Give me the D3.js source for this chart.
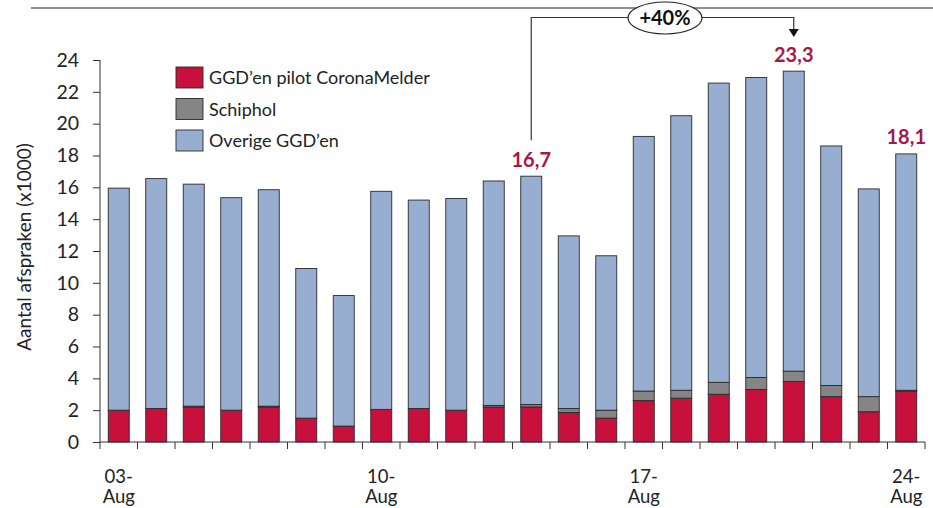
<!DOCTYPE html>
<html><head><meta charset="utf-8">
<script src="https://cdn.jsdelivr.net/npm/d3@7"></script>
<style>html,body{margin:0;padding:0;background:#fff;} text{font-family:Lato,"Open Sans",sans-serif;}</style>
</head><body>
<svg id="c" width="933" height="508"></svg>
<script>
const dates = ["03-Aug","04-Aug","05-Aug","06-Aug","07-Aug","08-Aug","09-Aug","10-Aug","11-Aug","12-Aug","13-Aug","14-Aug","15-Aug","16-Aug","17-Aug","18-Aug","19-Aug","20-Aug","21-Aug","22-Aug","23-Aug","24-Aug"];
const shownLabels = ["03-Aug","10-Aug","17-Aug","24-Aug"];
const ggdPilot = [2.0,2.1,2.2,2.0,2.2,1.5,1.0,2.05,2.1,2.0,2.2,2.2,1.85,1.5,2.6,2.75,3.0,3.3,3.8,2.85,1.9,3.2];
const schiphol = [0,0,0.05,0,0.05,0,0,0,0,0,0.1,0.15,0.25,0.5,0.6,0.5,0.75,0.75,0.65,0.7,0.95,0.05];
const overige = [13.95,14.45,13.95,13.35,13.6,9.4,8.2,13.7,13.1,13.3,14.1,14.35,10.85,9.7,16.0,17.25,18.8,18.85,18.85,15.05,13.05,14.85];
const seriesNames = ["GGD\u2019en pilot CoronaMelder","Schiphol","Overige GGD\u2019en"];
const seriesColors = ["#c8103c","#858585","#98aed0"];
const yTicks = [0,2,4,6,8,10,12,14,16,18,20,22,24];
const callouts = [{date:"14-Aug",text:"16,7"},{date:"21-Aug",text:"23,3"},{date:"24-Aug",text:"18,1"}];
const changeLabel = "+40%";
const yTitle = "Aantal afspraken (x1000)";

const svg = d3.select("#c");
const L = 100, R = 925, T = 60, B = 442;
const x = d3.scaleBand().domain(dates).range([L, R]).paddingInner(0.44).paddingOuter(0.22);
const y = d3.scaleLinear().domain([0, 24]).range([B, T]);

// top rule
svg.append("line").attr("x1",31).attr("x2",933).attr("y1",8).attr("y2",8).attr("stroke","#222").attr("stroke-width",1.2);

// stacked bars
const rows = dates.map((d,i)=>({date:d, s0:ggdPilot[i], s1:schiphol[i], s2:overige[i]}));
const stack = d3.stack().keys(["s0","s1","s2"])(rows);
stack.forEach((layer, k) => {
  svg.append("g").selectAll("rect").data(layer).join("rect")
    .attr("x", d => x(d.data.date))
    .attr("width", x.bandwidth())
    .attr("y", d => y(d[1]))
    .attr("height", d => Math.max(0, y(d[0]) - y(d[1])))
    .attr("fill", seriesColors[k])
    .attr("stroke", "#2a2a2a").attr("stroke-width", 0.9);
});

// y axis
const yAxis = d3.axisLeft(y).tickValues(yTicks).tickSize(7).tickPadding(14);
const gy = svg.append("g").attr("transform",`translate(${L},0)`).call(yAxis);
gy.select(".domain").attr("stroke","#333").attr("d",`M-0,${T}H0V${B}`);
gy.selectAll(".tick line").attr("stroke","#333");
gy.selectAll("text").attr("font-size",19.5).attr("fill","#222").style("font-family","Lato, sans-serif");

// x axis
svg.append("line").attr("x1",L).attr("x2",R).attr("y1",B).attr("y2",B).attr("stroke","#333");
const step = x.step();
d3.range(dates.length+1).forEach(i=>{
  const xx = L + i*step;
  svg.append("line").attr("x1",xx).attr("x2",xx).attr("y1",B).attr("y2",B+7).attr("stroke","#333");
});
const xl = svg.append("g").selectAll("text").data(shownLabels).join("text")
  .attr("x", d => x(d) + x.bandwidth()/2)
  .attr("text-anchor","middle").attr("font-size",18.5).attr("fill","#222");
xl.append("tspan").attr("x", d => x(d) + x.bandwidth()/2).attr("y",483).text(d => d.split("-")[0]+"-");
xl.append("tspan").attr("x", d => x(d) + x.bandwidth()/2).attr("y",503).text(d => d.split("-")[1]);

// y title
svg.append("text").attr("transform","translate(31,247) rotate(-90)").attr("text-anchor","middle")
  .attr("font-size",19).attr("fill","#222").text(yTitle);

// legend
const lg = svg.append("g");
seriesNames.forEach((n,k)=>{
  const yy = 67 + k*31.5;
  lg.append("rect").attr("x",176).attr("y",yy).attr("width",27).attr("height",21)
    .attr("fill",seriesColors[k]).attr("stroke","#2a2a2a").attr("stroke-width",0.9);
  lg.append("text").attr("x",209).attr("y",yy+17).attr("font-size",18).attr("fill","#222").text(n);
});

// callout labels
const total = i => ggdPilot[i]+schiphol[i]+overige[i];
callouts.forEach(c=>{
  const i = dates.indexOf(c.date);
  svg.append("text").attr("x", x(c.date)+x.bandwidth()/2).attr("y", y(total(i))-9.5)
    .attr("text-anchor","middle").attr("font-size",20).attr("font-weight","bold").attr("fill","#a8174a").text(c.text);
});

// bracket
const a = callouts[0].date, b = callouts[1].date;
const xa = x(a)+x.bandwidth()/2, xb = x(b)+x.bandwidth()/2;
const yTopA = y(total(dates.indexOf(a))) - 36;
svg.append("path").attr("d",`M${xa},${yTopA}V17.5H${xb}V30`).attr("fill","none").attr("stroke","#333").attr("stroke-width",1.2);
svg.append("path").attr("d",`M${xb-5},29L${xb+5},29L${xb},37Z`).attr("fill","#111");
svg.append("ellipse").attr("cx",665).attr("cy",18).attr("rx",37).attr("ry",16).attr("fill","#fff").attr("stroke","#222").attr("stroke-width",1.2);
svg.append("text").attr("x",665).attr("y",25).attr("text-anchor","middle").attr("font-size",20).attr("font-weight","bold").attr("fill","#111").text(changeLabel);
</script>
</body></html>
